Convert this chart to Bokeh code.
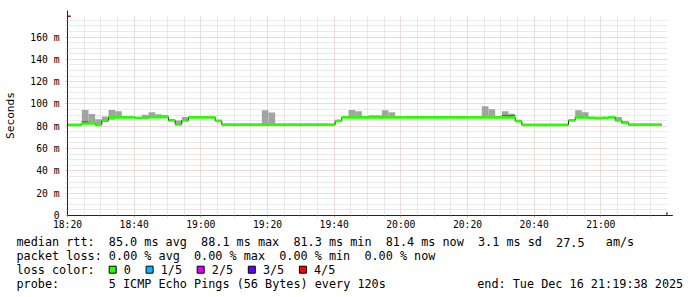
import math
import re
from bokeh.plotting import figure
from bokeh.models import Range1d, FixedTicker, Label, Arrow, NormalHead
from bokeh.embed import file_html
from bokeh.resources import INLINE
from bokeh.core.properties import value

# ---------------- data ----------------
start_time = "18:18:18"      # first 120 s step
step_seconds = 120
x_start_label = "18:20"
x_end_label = "21:20"

median_ms = [
    81.3, 81.3, 81.3, 82.5, 82.5, 81.3, 85.0, 87.9, 87.9, 87.9,
    87.9, 87.4, 87.4, 88.1, 88.1, 88.1, 85.2, 81.6, 85.2, 88.0,
    88.0, 88.0, 88.0, 84.9, 81.4, 81.4, 81.4, 81.4, 81.4, 81.4,
    81.4, 81.4, 81.4, 81.4, 81.4, 81.4, 81.4, 81.4, 81.4, 81.4,
    81.4, 84.9, 88.0, 88.0, 88.0, 88.0, 88.0, 88.0, 88.0, 88.0,
    88.0, 88.0, 88.0, 88.0, 88.0, 88.0, 88.0, 88.0, 88.0, 88.0,
    88.0, 88.0, 88.0, 88.0, 88.0, 88.0, 88.0, 88.0, 84.6, 81.3,
    81.3, 81.3, 81.3, 81.3, 81.3, 81.3, 85.3, 88.0, 88.0, 87.5,
    87.3, 87.5, 88.0, 85.3, 83.0, 81.4, 81.4, 81.4, 81.4, 81.4,
]

smoke_step = [3, 4, 5, 6, 7, 8, 11, 12, 13, 14, 15, 16, 17, 18, 30, 31,
              43, 44, 46, 47, 48, 49, 63, 64, 66, 67, 77, 78, 83, 84]
smoke_hi = [94.6, 91.0, 86.4, 88.8, 94.6, 93.4, 88.5, 90.3, 92.5, 90.7, 90.0, 86.6, 85.2, 88.2, 94.4, 92.4,
            94.6, 93.4, 89.8, 89.8, 94.3, 92.5, 97.9, 95.2, 93.4, 91.3, 94.3, 92.5, 88.2, 84.8]
smoke_lo = [82.5, 82.5, 81.3, 85.0, 85.8, 87.9, 87.4, 87.4, 88.1, 88.1, 88.1, 85.2, 81.6, 85.2, 81.4, 81.4,
            88.0, 88.0, 88.0, 88.0, 88.0, 88.0, 88.0, 88.0, 88.0, 88.0, 88.0, 88.0, 85.3, 83.0]

inner_step = [3, 66, 67]
inner_hi = [84.6, 90.0, 90.0]
inner_lo = [82.5, 88.0, 88.0]

x_tick_labels = ["18:20", "18:40", "19:00", "19:20", "19:40", "20:00", "20:20", "20:40", "21:00"]
y_tick_values = [0, 20, 40, 60, 80, 100, 120, 140, 160]
y_tick_labels = ["0", "20 m", "40 m", "60 m", "80 m", "100 m", "120 m", "140 m", "160 m"]

rtt_avg, rtt_max, rtt_min, rtt_now, rtt_sd, rtt_ams = 85.0, 88.1, 81.3, 81.4, 3.1, 27.5
loss_avg, loss_max, loss_min, loss_now = 0.00, 0.00, 0.00, 0.00
loss_labels = ["0", "1/5", "2/5", "3/5", "4/5"]
loss_colors = ["#26ff00", "#00b8ff", "#dd00ff", "#5e00ff", "#ff0000"]
probe_text = "5 ICMP Echo Pings (56 Bytes) every 120s"
end_text = "end: Tue Dec 16 21:19:38 2025"
watermark = "RRDTOOL / TOBI OETIKER"
y_label = "Seconds"

# ---------------- helpers ----------------
def to_min(s):
    parts = [int(v) for v in s.split(":")]
    while len(parts) < 3:
        parts.append(0)
    return parts[0] * 60 + parts[1] + parts[2] / 60.0

t0 = to_min(start_time)
step_min = step_seconds / 60.0
edges = [t0 + i * step_min for i in range(len(median_ms) + 1)]
lefts = edges[:-1]
rights = edges[1:]

MONO = "DejaVu Sans Mono"
SMOKE = "#a3a3a3"
SMOKE_DARK = "#5c5c5c"
ARROW = "#a01515"
half_band = 1.2

x0, x1 = to_min(x_start_label), to_min(x_end_label)
y_top = 179.3

W = 697
FRAME_L, FRAME_W, FRAME_T, FRAME_H = 67, 600, 15, 200
TOP_H = 233
p = figure(frame_width=FRAME_W, frame_height=FRAME_H, x_range=Range1d(x0, x1), y_range=Range1d(0, y_top),
           output_backend="svg", toolbar_location=None,
           min_border_left=FRAME_L, min_border_right=W - FRAME_L - FRAME_W, min_border_top=FRAME_T,
           min_border_bottom=TOP_H - FRAME_T - FRAME_H,
           background_fill_color="white", border_fill_color="white", outline_line_color=None)

x_major = [int(round(to_min(t))) for t in x_tick_labels]
x_minor = [m for m in range(int(x0), int(x1) + 1, 5) if m % 20 != 0]
y_minor = [v for v in range(0, 180, 5) if v % 20 != 0]

p.xaxis.ticker = FixedTicker(ticks=x_major, minor_ticks=x_minor)
p.yaxis.ticker = FixedTicker(ticks=y_tick_values, minor_ticks=y_minor)
p.xaxis.major_label_overrides = {k: v for k, v in zip(x_major, x_tick_labels)}
p.yaxis.major_label_overrides = {k: v for k, v in zip(y_tick_values, y_tick_labels)}

for ax in (p.xaxis[0], p.yaxis[0]):
    ax.axis_line_color = "#202020"
    ax.major_tick_out = 2
    ax.major_tick_in = 0
    ax.minor_tick_out = 2
    ax.minor_tick_in = 0
    ax.major_tick_line_color = "#e0b0b0"
    ax.minor_tick_line_color = "#dcdcdc"
    ax.major_label_text_font = MONO
    ax.major_label_text_font_size = "9.7px"
    ax.major_label_text_color = "#000000"

p.xaxis.major_label_standoff = 1
p.yaxis.major_label_standoff = 6
p.yaxis.axis_label = y_label
p.yaxis.axis_label_text_font = MONO
p.yaxis.axis_label_text_font_size = "11.2px"
p.yaxis.axis_label_text_font_style = "normal"
p.yaxis.axis_label_text_color = "#000000"
p.yaxis.axis_label_standoff = 10

for g in (p.xgrid[0], p.ygrid[0]):
    g.grid_line_color = "#e2b4b4"
    g.grid_line_dash = "1 1"
    g.minor_grid_line_color = "#d2d2d2"
    g.minor_grid_line_dash = "1 1"

# smoke
p.quad(left=[lefts[i] for i in smoke_step], right=[rights[i] for i in smoke_step],
       bottom=smoke_lo, top=smoke_hi, fill_color=SMOKE, line_color=None)
p.quad(left=[lefts[i] for i in inner_step], right=[rights[i] for i in inner_step],
       bottom=inner_lo, top=inner_hi, fill_color=SMOKE_DARK, line_color=None)

# median step line (black) under the loss-coloured band
p.step(x=edges, y=median_ms + [median_ms[-1]], mode="after", line_color="#202020", line_width=1)
p.quad(left=lefts, right=rights,
       bottom=[m - half_band for m in median_ms], top=[m + half_band for m in median_ms],
       fill_color=loss_colors[0], line_color=None)

# axis arrows
p.add_layout(Arrow(end=NormalHead(size=6, fill_color=ARROW, line_color=ARROW),
                   x_start=x0, y_start=0, x_end=x0, y_end=y_top * 1.025,
                   line_color="#202020", line_width=1))
p.add_layout(Arrow(end=NormalHead(size=6, fill_color=ARROW, line_color=ARROW),
                   x_start=x0, y_start=0, x_end=x1 + 1.6, y_end=0,
                   line_color="#202020", line_width=1))

p.add_layout(Label(x=621, y=210, x_units="screen", y_units="screen", text=watermark,
                   angle=-math.pi / 2, text_align="left", text_baseline="middle",
                   text_font=MONO, text_font_size="8.3px", text_color="#b8b8b8"))

# ---------------- legend area: a second root whose frame spans the full width ----------------
LEG_H = 297 - TOP_H
q = figure(frame_width=W, frame_height=LEG_H, x_range=Range1d(0, W), y_range=Range1d(TOP_H + LEG_H, TOP_H),
           output_backend="svg", toolbar_location=None, min_border=0,
           min_border_left=0, min_border_right=0, min_border_top=0, min_border_bottom=0,
           background_fill_color="white", border_fill_color="white", outline_line_color=None)
q.axis.visible = False
q.grid.visible = False

line1 = (f"median rtt:  {rtt_avg:.1f} ms avg  {rtt_max:.1f} ms max  {rtt_min:.1f} ms min  "
         f"{rtt_now:.1f} ms now  {rtt_sd:.1f} ms sd  {rtt_ams:.1f}   am/s")
line2 = (f"packet loss: {loss_avg:.2f} % avg  {loss_max:.2f} % max  {loss_min:.2f} % min  "
         f"{loss_now:.2f} % now")
line3 = "loss color:"
line4 = "probe:       " + probe_text

FS = "11.8px"
CW = 7.1
X_TXT = 16
rows = [241.7, 255.0, 269.3, 283.3]   # page pixels

tx, ty, tt, ta = [], [], [], []
for line, yy in zip([line1, line2, line3, line4], rows):
    for m in re.finditer(r"\S+(?: \S+)*", line):
        tx.append(X_TXT + m.start() * CW)
        ty.append(yy)
        tt.append(m.group())
        ta.append("left")
tx.append(682.7); ty.append(rows[3]); tt.append(end_text); ta.append("right")

bx = []
cur = 108.7
for lab in loss_labels:
    bx.append(cur)
    tx.append(cur + 14.6); ty.append(rows[2]); tt.append(lab); ta.append("left")
    cur = cur + 14.6 + len(lab) * CW + 15.2

q.text(x=tx, y=ty, text=tt, text_align=ta, text_font=value(MONO), text_font_size=value(FS),
       text_baseline="middle", text_color="#000000")
box_top = 265.7
q.quad(left=bx, right=[b + 7 for b in bx], top=[box_top] * len(bx), bottom=[box_top + 7] * len(bx),
       fill_color=loss_colors, line_color="#000000", line_width=1)

open("out.html", "w").write(file_html([p, q], INLINE))
